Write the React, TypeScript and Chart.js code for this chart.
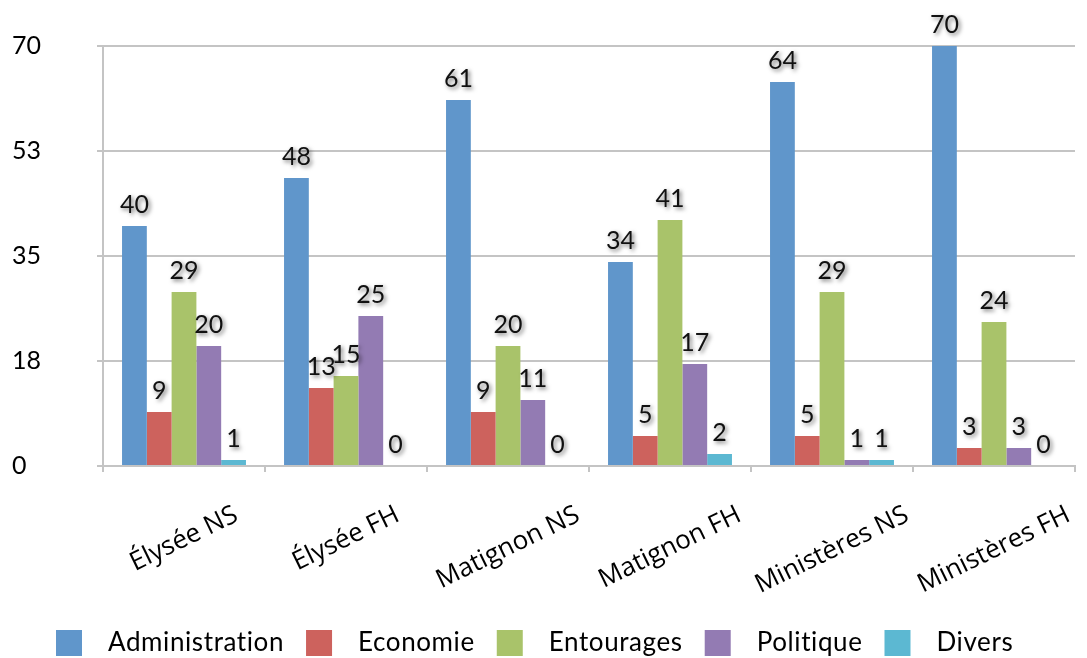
import React, { useEffect, useRef } from "react";
import { Chart, registerables } from "chart.js";
Chart.register(...registerables);

const categories = ["Élysée NS", "Élysée FH", "Matignon NS", "Matignon FH", "Ministères NS", "Ministères FH"];
const seriesNames = ["Administration", "Economie", "Entourages", "Politique", "Divers"];
const administration = [40, 48, 61, 34, 64, 70];
const economie = [9, 13, 9, 5, 5, 3];
const entourages = [29, 15, 20, 41, 29, 24];
const politique = [20, 25, 11, 17, 1, 3];
const divers = [1, 0, 0, 2, 1, 0];
const seriesValues = [administration, economie, entourages, politique, divers];
const colors = ["#6096CB", "#CD625D", "#A9C36A", "#937BB3", "#5CB8D2"];
const yTicks = [0, 17.5, 35, 52.5, 70];

const W = 1087;
const H = 658;
const LABEL_FONT = "Lato, 'Noto Sans', sans-serif";
const XLABEL_FONT = "'Open Sans', 'Noto Sans', sans-serif";

const valueLabels = {
  id: "valueLabels",
  afterDatasetsDraw(chart: any) {
    const ctx = chart.ctx;
    ctx.save();
    ctx.font = `25px ${LABEL_FONT}`;
    ctx.textAlign = "center";
    ctx.textBaseline = "alphabetic";
    ctx.fillStyle = "#111";
    ctx.shadowColor = "rgba(0,0,0,0.55)";
    ctx.shadowBlur = 4;
    ctx.shadowOffsetX = 2;
    ctx.shadowOffsetY = 2;
    chart.data.datasets.forEach((ds: any, di: number) => {
      const meta = chart.getDatasetMeta(di);
      meta.data.forEach((bar: any, i: number) => {
        ctx.fillText(String(ds.data[i]), bar.x, bar.y - 13);
      });
    });
    ctx.restore();
  },
};

const xLabels = {
  id: "xLabels",
  afterDraw(chart: any) {
    const ctx = chart.ctx;
    const xs = chart.scales.x;
    const theta = (26 * Math.PI) / 180;
    const top = 505;
    ctx.save();
    ctx.font = `26px ${XLABEL_FONT}`;
    ctx.fillStyle = "#000";
    ctx.textAlign = "center";
    ctx.textBaseline = "middle";
    categories.forEach((c, i) => {
      const cx = xs.getPixelForValue(i);
      const w = ctx.measureText(c).width;
      const h = 19;
      const bh = w * Math.sin(theta) + h * Math.cos(theta);
      const cy = top + bh / 2;
      ctx.save();
      ctx.translate(cx, cy);
      ctx.rotate(-theta);
      ctx.fillText(c, 0, 0);
      ctx.restore();
    });
    ctx.restore();
  },
};

const customLegend = {
  id: "customLegend",
  afterDraw(chart: any) {
    const ctx = chart.ctx;
    ctx.save();
    ctx.font = `26px ${LABEL_FONT}`;
    try {
      (ctx as any).letterSpacing = "0.6px";
    } catch (e) {}
    ctx.textBaseline = "middle";
    ctx.textAlign = "left";
    const box = 26;
    const gapBoxText = 26;
    const gapItems = 22;
    const cy = 643;
    let x = 56;
    seriesNames.forEach((name, i) => {
      ctx.fillStyle = colors[i];
      ctx.fillRect(x, cy - box / 2, box, box);
      x += box + gapBoxText;
      ctx.fillStyle = "#000";
      ctx.fillText(name, x, cy);
      x += ctx.measureText(name).width + gapItems;
    });
    ctx.restore();
  },
};

export default function App() {
  const ref = useRef<HTMLCanvasElement | null>(null);
  useEffect(() => {
    if (!ref.current) return;
    const chart = new Chart(ref.current, {
      type: "bar",
      data: {
        labels: categories,
        datasets: seriesNames.map((name, i) => ({
          label: name,
          data: seriesValues[i],
          backgroundColor: colors[i],
          borderWidth: 0,
          categoryPercentage: 0.765,
          barPercentage: 1,
        })),
      },
      options: {
        responsive: false,
        animation: false,
        devicePixelRatio: 1,
        layout: { padding: { top: 46, right: 12, left: 12, bottom: 0 } },
        plugins: { legend: { display: false }, tooltip: { enabled: false } },
        scales: {
          x: {
            grid: {
              display: true,
              drawOnChartArea: false,
              drawTicks: true,
              tickLength: 6,
              color: "#c4c4c4",
              lineWidth: 2,
              offset: true,
            },
            border: { display: true, color: "#c4c4c4", width: 2 },
            ticks: { display: false },
            afterFit: (s: any) => {
              s.height = 192;
            },
          },
          y: {
            min: 0,
            max: 70,
            afterBuildTicks: (s: any) => {
              s.ticks = yTicks.map((v) => ({ value: v }));
            },
            grid: { color: "#c4c4c4", lineWidth: 2, tickLength: 6, drawTicks: true },
            border: { display: true, color: "#c4c4c4", width: 2 },
            ticks: {
              crossAlign: "far",
              color: "#000",
              font: { family: LABEL_FONT, size: 25 },
              callback: (v: any) => String(Math.round(Number(v))),
            },
            afterFit: (s: any) => {
              s.width = 91;
            },
          },
        },
      },
      plugins: [valueLabels, xLabels, customLegend],
    } as any);
    return () => chart.destroy();
  }, []);
  return (
    <div style={{ position: "absolute", left: 0, top: 0, width: W, height: H, background: "#fff" }}>
      <canvas ref={ref} width={W} height={H} style={{ width: W, height: H, display: "block" }} />
    </div>
  );
}
